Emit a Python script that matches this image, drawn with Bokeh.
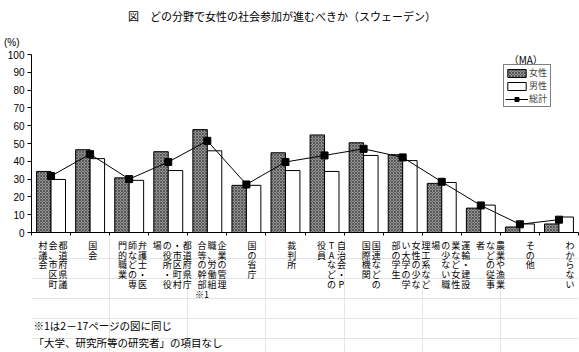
import numpy as np
from bokeh.plotting import figure
from bokeh.models import ColumnDataSource, Range1d, FixedTicker, Legend, LegendItem, Label
from bokeh.layouts import column
from bokeh.embed import file_html
from bokeh.resources import INLINE
from bokeh.core.properties import value

# ---------------- data ----------------
categories = [
    "都道府県議会、市区町村議会",
    "国会",
    "弁護士・医師などの専門的職業",
    "都道府県庁・市区町村の役所・役場",
    "企業の管理職、労働組合等の幹部※1",
    "国の省庁",
    "裁判所",
    "自治会・PTAなどの役員",
    "国連などの国際機関",
    "理工系など女性の少ない大学の学部の学生",
    "運輸・建設業など女性の少ない職場",
    "農業や漁業などの従事者",
    "その他",
    "わからない",
]
women = [34.3, 46.5, 30.7, 45.4, 57.8, 26.5, 44.8, 54.8, 50.4, 43.7, 27.6, 13.7, 3.1, 4.8]
men = [29.8, 41.5, 29.3, 34.8, 45.9, 26.5, 34.8, 34.3, 43.3, 40.4, 28.1, 15.4, 4.8, 8.7]
total = [31.7, 44.0, 30.0, 39.6, 51.5, 27.0, 39.6, 43.3, 47.0, 42.2, 28.5, 15.2, 4.6, 7.2]
series_names = ["女性", "男性", "総計"]
y_ticks = [0, 10, 20, 30, 40, 50, 60, 70, 80, 90, 100]
title_text = "図　どの分野で女性の社会参加が進むべきか（スウェーデン）"
unit_text = "(%)"
ma_text = "（MA）"
notes = ["※1は2－17ページの図に同じ", "「大学、研究所等の研究者」の項目なし"]

# ---------------- style / layout ----------------
FONT = "Noto Sans CJK JP"
NUMFONT = "Liberation Sans"
W = 579
FL, FR = 30, 578
HEAD_H = 48
n = len(categories)
xc = np.arange(n) + 0.5
BW = 0.37

src = ColumnDataSource(dict(
    x=xc, xw=xc - BW / 2, xm=xc + BW / 2,
    women=women, men=men, total=total,
))

# ---------------- header (title, unit) ----------------
hd = figure(width=W, height=HEAD_H, x_range=Range1d(FL, FR), y_range=Range1d(HEAD_H, 0),
            output_backend="svg", toolbar_location=None, x_axis_location=None,
            min_border_left=FL, min_border_right=W - FR, min_border_top=0, min_border_bottom=0)
hd.outline_line_color = None
hd.grid.visible = False
UNIT_Y = 42
hd.yaxis.ticker = FixedTicker(ticks=[UNIT_Y])
hd.yaxis.major_label_overrides = {UNIT_Y: unit_text}
hd.yaxis.major_tick_line_color = None
hd.yaxis.minor_tick_line_color = None
hd.yaxis.axis_line_color = None
hd.yaxis.major_tick_out = 0
hd.yaxis.major_tick_in = 0
hd.yaxis.major_label_standoff = 12
hd.yaxis.major_label_text_font = NUMFONT
hd.yaxis.major_label_text_font_size = "10px"
hd.yaxis.major_label_text_color = "black"
hd.text(x=[281], y=[15], text=[title_text], text_align="center", text_baseline="middle",
        text_font=value(FONT), text_font_size="11px", text_color="black")

# ---------------- main chart ----------------
p = figure(width=W, height=190, x_range=Range1d(0, n), y_range=Range1d(0, 100),
           output_backend="svg", toolbar_location=None,
           min_border_left=FL, min_border_right=W - FR, min_border_top=6, min_border_bottom=6)
p.outline_line_color = None
p.grid.visible = False

rw = p.vbar(x="xw", top="women", width=BW, source=src, fill_color="#959595",
            line_color="black", line_width=1,
            hatch_pattern="diagonal_cross", hatch_color="black", hatch_scale=3,
            hatch_weight=0.6, hatch_alpha=0.7)
rm = p.vbar(x="xm", top="men", width=BW, source=src, fill_color="white",
            line_color="black", line_width=1)
rl = p.line(x="x", y="total", source=src, line_color="black", line_width=1)
rs = p.scatter(x="x", y="total", source=src, marker="square", size=7,
               fill_color="black", line_color="black")

p.yaxis.ticker = FixedTicker(ticks=y_ticks)
p.yaxis.major_tick_out = 4
p.yaxis.major_tick_in = 0
p.yaxis.minor_tick_line_color = None
p.yaxis.major_label_standoff = 3
p.yaxis.major_label_text_font = NUMFONT
p.yaxis.major_label_text_font_size = "10px"
p.yaxis.major_label_text_color = "black"
p.yaxis.axis_line_color = "black"

p.xaxis.ticker = FixedTicker(ticks=list(range(n + 1)))
p.xaxis.major_tick_out = 3
p.xaxis.major_tick_in = 0
p.xaxis.minor_tick_line_color = None
p.xaxis.major_label_overrides = {i: "" for i in range(n + 1)}
p.xaxis.major_label_text_font_size = "1px"
p.xaxis.major_label_standoff = 0
p.xaxis.axis_line_color = "black"

legend = Legend(items=[
    LegendItem(label=series_names[0], renderers=[rw]),
    LegendItem(label=series_names[1], renderers=[rm]),
    LegendItem(label=series_names[2], renderers=[rl, rs]),
], location=(472, 125), orientation="vertical",
    border_line_color="black", border_line_width=1, background_fill_color="white",
    background_fill_alpha=1, padding=1, spacing=0, margin=0,
    glyph_width=23, glyph_height=10, label_height=10, label_standoff=1,
    label_text_font=FONT, label_text_font_size="9px")
p.add_layout(legend)
p.add_layout(Label(x=12.65, y=97, text=ma_text, text_align="center", text_baseline="middle",
                   text_font=FONT, text_font_size="10px", text_color="black"))

# ---------------- category labels (vertical writing) + notes ----------------
LH = 352 - HEAD_H - 190
lf = figure(width=W, height=LH, x_range=p.x_range, y_range=Range1d(LH, 0),
            output_backend="svg", toolbar_location=None,
            x_axis_location=None, y_axis_location=None,
            min_border_left=FL, min_border_right=W - FR, min_border_top=0, min_border_bottom=0)
lf.outline_line_color = None

COLW, ROWH, ROW0 = 10.0, 9.8, 6.8
xs, ys, chars, xo = [], [], [], []
for i, lab in enumerate(categories):
    mark = ""
    if "※" in lab:
        k = lab.index("※")
        mark, lab = lab[k:], lab[:k]
    cols = [list(lab[j:j + 5]) for j in range(0, len(lab), 5)]
    if mark:
        cols[-1].append(mark)
    nc = len(cols)
    shift = 2 + 0.7 * i
    for j, col in enumerate(cols):
        off = ((nc - 1) / 2 - j) * COLW + shift
        for r, ch in enumerate(col):
            xs.append(xc[i]); ys.append(ROW0 + r * ROWH); chars.append(ch); xo.append(off)
lf.text(x=xs, y=ys, text=chars, x_offset=xo, text_align="center", text_baseline="middle",
        text_font=value(FONT), text_font_size="9px", text_color="black")
lf.text(x=[0, 0], y=[87, 104], text=notes, x_offset=[2, 2], text_align="left",
        text_baseline="middle", text_font=value(FONT), text_font_size="10.5px",
        text_color="black")

layout = column(hd, p, lf, spacing=0)
open("out.html", "w").write(file_html(layout, INLINE))
